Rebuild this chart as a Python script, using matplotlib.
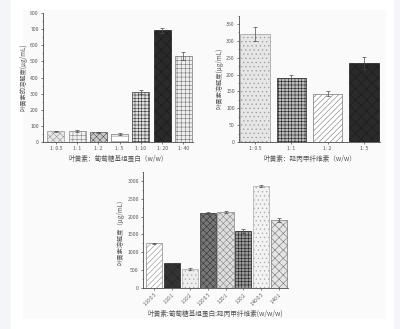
import numpy as np
import matplotlib.pyplot as plt
from matplotlib.patches import Rectangle

plt.rcParams['font.family'] = ['Noto Sans CJK SC', 'DejaVu Sans']
plt.rcParams['hatch.linewidth'] = 0.4

# ---- data ---- #
cats1 = ["1: 0.5", "1: 1", "1: 2", "1: 5", "1: 10", "1: 20", "1: 40"]
vals1 = [66, 68, 60, 50, 310, 692, 532]
errs1 = [4, 4, 5, 6, 14, 14, 24]

cats2 = ["1: 0.5", "1: 1", "1: 2", "1: 5"]
vals2 = [321, 190, 143, 235]
errs2 = [20, 10, 8, 18]

cats3 = ["1:10:0.5", "1:10:1", "1:10:2", "1:20:0.5", "1:20:1", "1:20:2", "1:40:0.5", "1:40:1"]
vals3 = [1250, 700, 530, 2100, 2130, 1600, 2850, 1900]
errs3 = [20, 10, 20, 40, 40, 50, 30, 50]

ink = "#4a4a4a"
txt = "#555555"

fig = plt.figure(figsize=(4.0, 3.29), dpi=100)
W, H = 400, 329

# fond de page
fig.patches.append(Rectangle((0, 0), 1, 1, transform=fig.transFigure, color="#f3f5f8", zorder=-10))
fig.patches.append(Rectangle((11 / W, 0), (393 - 11) / W, 1, transform=fig.transFigure,
                             color="white", zorder=-9))
fig.patches.append(Rectangle((23 / W, 1 - 318 / H), (385 - 23) / W, (318 - 10) / H,
                             transform=fig.transFigure, color="#fafafa", zorder=-8))


def style_axis(ax):
    ax.set_facecolor("none")
    for s in ["top", "right"]:
        ax.spines[s].set_visible(False)
    for s in ["left", "bottom"]:
        ax.spines[s].set_color(ink)
        ax.spines[s].set_linewidth(0.6)
    ax.tick_params(axis="both", colors=ink, labelcolor=txt, labelsize=3.7,
                   length=1.5, width=0.5, pad=1.5)
    ax.tick_params(axis="y", which="minor", length=1, width=0.4, colors=ink)
    ax.minorticks_on()
    ax.tick_params(axis="x", which="minor", bottom=False)


def draw_bars(ax, vals, errs, styles, width):
    x = np.arange(len(vals))
    for i in range(len(vals)):
        fc, hatch, ec = styles[i]
        ax.bar(x[i], vals[i], width=width, color=fc, hatch=hatch, edgecolor=ec,
               linewidth=0.5)
    ax.errorbar(x, vals, yerr=errs, fmt="none", ecolor=ink, elinewidth=0.5,
                capsize=1.5, capthick=0.5)
    return x


# ---- chart 1 ---- #
ax1 = fig.add_axes([43 / W, 1 - 142 / H, 150 / W, 129 / H])
style_axis(ax1)
styles1 = [("#e8e8e8", "xxxxx", "#999999"), ("#f0f0f0", "++++", "#888888"),
           ("#c8c8c8", "xxxxx", "#555555"), ("white", "---", "#777777"),
           ("#e0e0e0", "+++++", "#333333"), ("#2a2a2a", "xxx", "#1a1a1a"),
           ("#eeeeee", "++++", "#777777")]
x1 = draw_bars(ax1, vals1, errs1, styles1, 0.8)
ax1.set_xlim(-0.6, 6.45)
ax1.set_ylim(0, 800)
ax1.set_yticks(np.arange(0, 801, 100))
ax1.yaxis.set_minor_locator(plt.MultipleLocator(50))
ax1.set_xticks(x1)
ax1.set_xticklabels(cats1)
ax1.set_ylabel("叶黄素的溶解度(μg/mL)", fontsize=4.5, color=txt, labelpad=2)
ax1.set_xlabel("叶黄素：葡萄糖基组蛋白（w/w）", fontsize=4.8, color=txt, labelpad=3)

# ---- chart 2 ---- #
ax2 = fig.add_axes([239 / W, 1 - 142 / H, 141 / W, (142 - 15.6) / H])
style_axis(ax2)
styles2 = [("#e6e6e6", "....", "#999999"), ("#bbbbbb", "+++++", "#222222"),
           ("white", "//////", "#777777"), ("#2a2a2a", "xxx", "#1a1a1a")]
x2 = draw_bars(ax2, vals2, errs2, styles2, 0.82)
ax2.set_xlim(-0.45, 3.45)
ax2.set_ylim(0, 375)
ax2.set_yticks(np.arange(0, 351, 50))
ax2.yaxis.set_minor_locator(plt.MultipleLocator(25))
ax2.set_xticks(x2)
ax2.set_xticklabels(cats2)
ax2.set_ylabel("叶黄素溶解度(μg/mL)", fontsize=4.5, color=txt, labelpad=2)
ax2.set_xlabel("叶黄素：羟丙甲纤维素（w/w）", fontsize=4.8, color=txt, labelpad=3)

# ---- chart 3 ---- #
ax3 = fig.add_axes([143 / W, 1 - 288 / H, 145 / W, 116 / H])
style_axis(ax3)
styles3 = [("white", "//////", "#888888"), ("#333333", "xxx", "#222222"),
           ("#eeeeee", "....", "#aaaaaa"), ("#777777", "xxxxx", "#333333"),
           ("#dddddd", "xxxxx", "#888888"), ("#999999", "+++++", "#222222"),
           ("#f2f2f2", "....", "#aaaaaa"), ("#e4e4e4", "xxxx", "#777777")]
x3 = draw_bars(ax3, vals3, errs3, styles3, 0.9)
ax3.set_xlim(-0.62, 7.5)
ax3.set_ylim(0, 3250)
ax3.set_yticks(np.arange(0, 3001, 500))
ax3.yaxis.set_minor_locator(plt.MultipleLocator(250))
ax3.set_xticks(x3)
ax3.set_xticklabels(cats3, rotation=45, ha="right", rotation_mode="anchor", fontsize=3.2)
ax3.set_ylabel("叶黄素溶解度（μg/mL）", fontsize=4.5, color=txt, labelpad=2)
ax3.set_xlabel("叶黄素:葡萄糖基组蛋白:羟丙甲纤维素(w/w/w)", fontsize=4.8, color=txt, labelpad=2)

fig.savefig("out.png", dpi=100)
